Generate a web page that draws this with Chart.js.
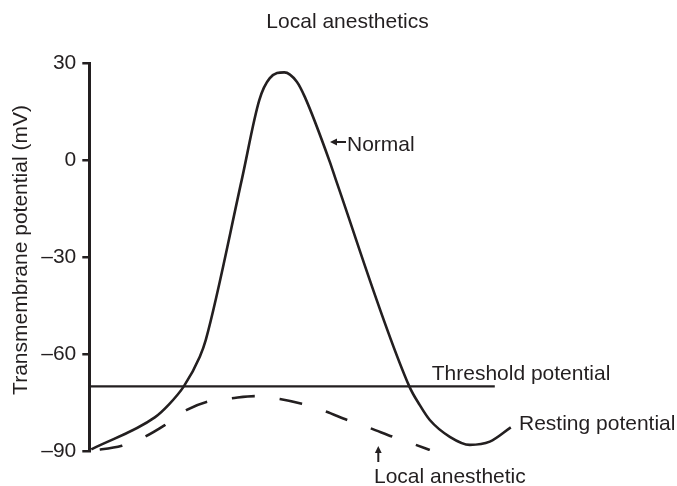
<!DOCTYPE html>
<html>
<head>
<meta charset="utf-8">
<title>Local anesthetics</title>
<script src="https://cdn.jsdelivr.net/npm/chart.js@4.4.1/dist/chart.umd.min.js"></script>
<style>
  body { margin: 0; background: #fff; }
  canvas { display: block; }
</style>
</head>
<body>
<canvas id="apChart" width="677" height="486"></canvas>
<script>
// Action potential, time in arbitrary units, potential in mV
const normalTime = [0.4, 13.1, 15.8, 18.9, 22.1, 23.3, 30.5, 34, 36.1, 39, 41.5, 43.1, 48.1, 49.3, 64, 66.1, 68.1, 72.1, 76.1, 80.1, 84.3];
const normalMv   = [-89.5, -79.6, -75.8, -70, -60.8, -55.6, -6, 18.6, 25.4, 27.2, 24.3, 19.6, -0.5, -6, -70, -75.8, -80.4, -85.6, -88.1, -87.1, -82.7];

// Response with local anesthetic: stays below threshold
const blockedTime = [0.5, 6.5, 11.1, 15.1, 19.5, 23.7, 28.5, 33.1, 38.1, 42.5, 47.3, 51.6, 56.3, 60.7, 65.3, 68.1];
const blockedMv   = [-89.9, -88.4, -85.6, -82, -77.3, -74.7, -73.7, -73, -73.9, -75.4, -77.8, -80.4, -83, -85.6, -88.1, -89.7];

const thresholdTime = [0, 81.1];
const thresholdMv   = [-70, -70];

const yTicks = [30, 0, -30, -60, -90];

const ink = '#231f20';
const fontFamily = '"Liberation Sans", Arial, Helvetica, sans-serif';

function toPoints(xs, ys) {
    return xs.map((x, i) => ({ x: x, y: ys[i] }));
}

function drawArrow(ctx, x1, y1, x2, y2) {
    const a = Math.atan2(y2 - y1, x2 - x1);
    const head = 7, half = 3.4;
    ctx.beginPath();
    ctx.moveTo(x1, y1);
    ctx.lineTo(x2 - head * Math.cos(a), y2 - head * Math.sin(a));
    ctx.lineWidth = 2;
    ctx.stroke();
    ctx.beginPath();
    ctx.moveTo(x2, y2);
    ctx.lineTo(x2 - head * Math.cos(a) + half * Math.sin(a), y2 - head * Math.sin(a) - half * Math.cos(a));
    ctx.lineTo(x2 - head * Math.cos(a) - half * Math.sin(a), y2 - head * Math.sin(a) + half * Math.cos(a));
    ctx.closePath();
    ctx.fill();
}

// title, axis label and callouts
const labelsPlugin = {
    id: 'labels',
    afterDraw(chart) {
        const ctx = chart.ctx;
        ctx.save();
        ctx.fillStyle = ink;
        ctx.strokeStyle = ink;
        ctx.font = '21px ' + fontFamily;
        ctx.textBaseline = 'alphabetic';

        ctx.textAlign = 'center';
        ctx.fillText('Local anesthetics', 347.5, 28.3);

        ctx.save();
        ctx.translate(26.7, 250);
        ctx.rotate(-Math.PI / 2);
        ctx.fillText('Transmembrane potential (mV)', 0, 0);
        ctx.restore();

        ctx.textAlign = 'left';
        ctx.fillText('Normal', 347, 150.5);
        drawArrow(ctx, 346, 142, 330, 142);

        ctx.fillText('Threshold potential', 431.7, 380);
        ctx.fillText('Resting potential', 519, 430);

        ctx.fillText('Local anesthetic', 374, 482.5);
        drawArrow(ctx, 378.3, 462, 378.3, 446);
        ctx.restore();
    }
};

new Chart(document.getElementById('apChart'), {
    type: 'line',
    data: {
        datasets: [{
            label: 'Normal',
            data: toPoints(normalTime, normalMv),
            borderColor: ink,
            borderWidth: 2.6,
            cubicInterpolationMode: 'monotone'
        }, {
            label: 'Local anesthetic',
            data: toPoints(blockedTime, blockedMv),
            borderColor: ink,
            borderWidth: 2.6,
            borderDash: [23, 25],
            borderDashOffset: 40,
            cubicInterpolationMode: 'monotone'
        }, {
            label: 'Threshold potential',
            data: toPoints(thresholdTime, thresholdMv),
            borderColor: ink,
            borderWidth: 2.2
        }]
    },
    options: {
        responsive: false,
        animation: false,
        devicePixelRatio: 1,
        elements: { point: { radius: 0, hoverRadius: 0 } },
        layout: { padding: { top: 63.3, bottom: 35, left: 0, right: 87.7 } },
        plugins: {
            legend: { display: false },
            tooltip: { enabled: false }
        },
        scales: {
            x: {
                type: 'linear',
                min: 0,
                max: 100,
                display: false
            },
            y: {
                min: -90,
                max: 30,
                afterFit: scale => { scale.width = 89.3; },
                afterBuildTicks: scale => { scale.ticks = yTicks.map(v => ({ value: v })); },
                border: { display: true, color: ink, width: 3 },
                grid: {
                    drawOnChartArea: false,
                    drawTicks: true,
                    tickLength: 7,
                    color: ink,
                    lineWidth: 2.5
                },
                ticks: {
                    padding: 6,
                    color: ink,
                    font: { family: fontFamily, size: 21 },
                    callback: v => v < 0 ? '\u2013' + Math.abs(v) : String(v)
                }
            }
        }
    },
    plugins: [labelsPlugin]
});
</script>
</body>
</html>
